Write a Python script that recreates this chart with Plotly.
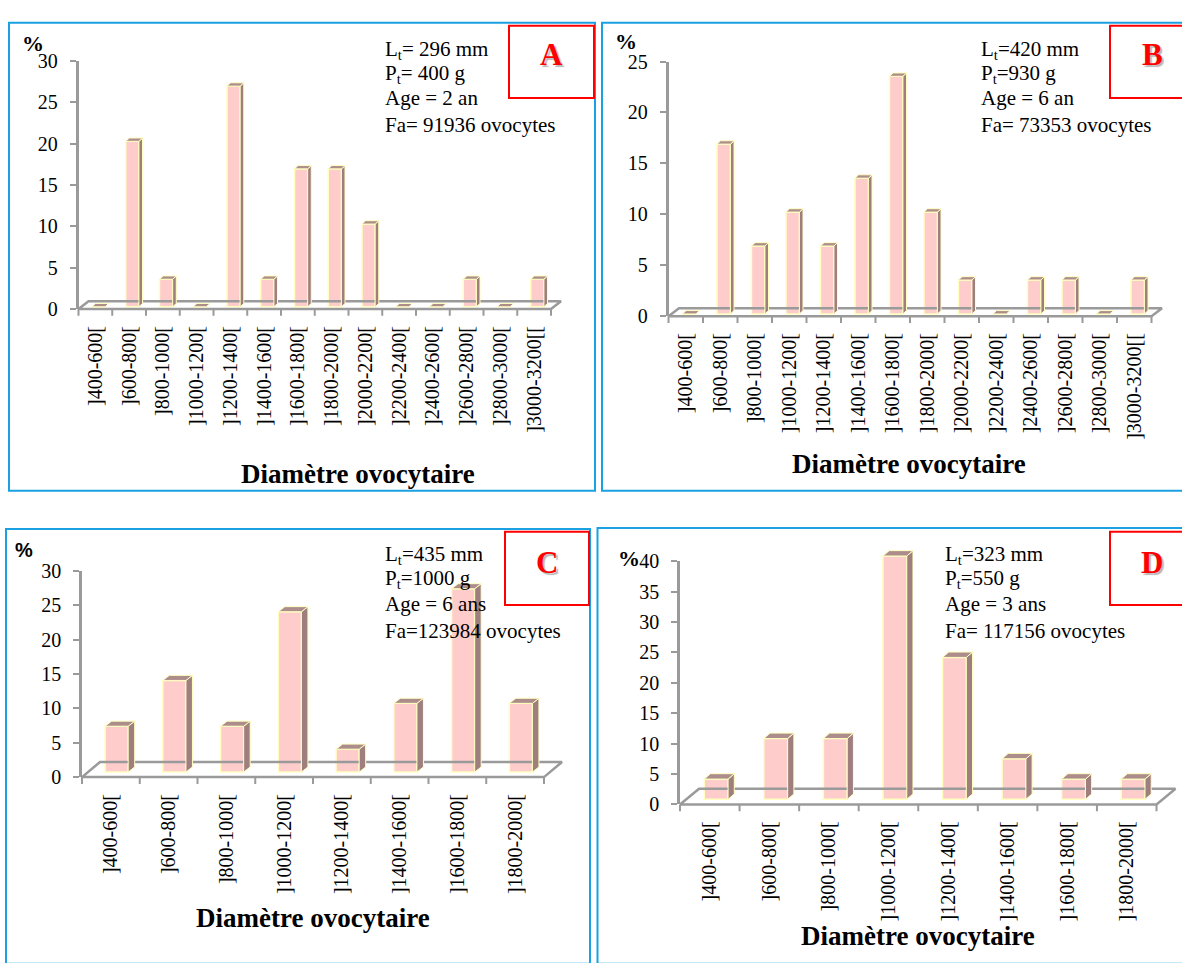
import plotly.graph_objects as go

W, H = 1182, 963

# ---- data -------------------------------------------------------------
classes_long = ["]400-600[", "]600-800[", "]800-1000[", "]1000-1200[", "]1200-1400[",
                "]1400-1600[", "]1600-1800[", "]1800-2000[", "]2000-2200[", "]2200-2400[",
                "]2400-2600[", "]2600-2800[", "]2800-3000[", "]3000-3200[["]
classes_short = ["]400-600[", "]600-800[", "]800-1000[", "]1000-1200[", "]1200-1400[",
                 "]1400-1600[", "]1600-1800[", "]1800-2000["]

pct_a = [0, 20, 3.33, 0, 26.67, 3.33, 16.67, 16.67, 10, 0, 0, 3.33, 0, 3.33]
pct_b = [0, 16.67, 6.67, 10, 6.67, 13.33, 23.33, 10, 3.33, 0, 3.33, 3.33, 0, 3.33]
pct_c = [6.67, 13.33, 6.67, 23.33, 3.33, 10, 26.67, 10]
pct_d = [3.33, 10, 10, 40, 23.33, 6.67, 3.33, 3.33]

yticks_a = [0, 5, 10, 15, 20, 25, 30]
yticks_b = [0, 5, 10, 15, 20, 25]
yticks_c = [0, 5, 10, 15, 20, 25, 30]
yticks_d = [0, 5, 10, 15, 20, 25, 30, 35, 40]

info_a = ["L<sub>t</sub>= 296 mm", "P<sub>t</sub>= 400 g", "Age = 2 an", "Fa= 91936 ovocytes"]
info_b = ["L<sub>t</sub>=420 mm", "P<sub>t</sub>=930 g", "Age = 6 an", "Fa= 73353 ovocytes"]
info_c = ["L<sub>t</sub>=435 mm", "P<sub>t</sub>=1000 g", "Age = 6 ans", "Fa=123984 ovocytes"]
info_d = ["L<sub>t</sub>=323 mm", "P<sub>t</sub>=550 g", "Age = 3 ans", "Fa= 117156 ovocytes"]

x_title = "Diamètre ovocytaire"

# ---- styling ------------------------------------------------------------
SERIF = "Liberation Serif"
SANS = "Liberation Sans"
GREY = "#9a9a9a"
FRONT = "#FFCCCC"
SIDE = "#9E7E7E"
TOP = "#AD8C8C"
EDGE = "#FFFFC0"
BLUE = "#1BA1E2"
RED = "#FF0000"

# pixel geometry of each panel (axis corner, axis extents, floor depth, bar depth)
panels = [
    dict(tag="A", cats=classes_long, vals=pct_a, yt=yticks_a, info=info_a,
         x0=78.5, x1=551, y0=305, ytop=51, fdx=10, fdy=8, bw=0.39, bdx=3.6, bdy=3.4,
         info_x=383, info_y=[40, 64, 89, 117], pct=(32.5, 33, SERIF, 22),
         letter=(551, 45), title=(358, 474),
         box=(9, 12, 595, 491), red=(509, 15, 594, 89)),
    dict(tag="B", cats=classes_long, vals=pct_b, yt=yticks_b, info=info_b,
         x0=668.5, x1=1151.5, y0=312.3, ytop=51.7, fdx=10.5, fdy=8, bw=0.39, bdx=3.6, bdy=3.4,
         info_x=979, info_y=[40, 64, 89, 117], pct=(626, 31, SERIF, 22),
         letter=(1152, 45), title=(909, 464),
         box=(602, 12, 1195, 491), red=(1110, 15, 1195, 89)),
    dict(tag="C", cats=classes_short, vals=pct_c, yt=yticks_c, info=info_c,
         x0=82, x1=544, y0=784, ytop=573, fdx=18, fdy=15.5, bw=0.40, bdx=6.5, bdy=5.2,
         info_x=383, info_y=[557, 581, 607, 634], pct=(24, 552, SANS, 20),
         letter=(547, 564), title=(313, 928),
         box=(6, 530, 590, 975), red=(505, 533, 589, 608)),
    dict(tag="D", cats=classes_short, vals=pct_d, yt=yticks_d, info=info_d,
         x0=680, x1=1156.5, y0=812, ytop=563, fdx=19, fdy=16, bw=0.40, bdx=6.2, bdy=5.5,
         info_x=943, info_y=[557, 581, 607, 634], pct=(628.5, 560, SERIF, 22),
         letter=(1151.5, 564), title=(918, 947),
         box=(597.5, 529, 1195, 975), red=(1110, 533, 1195, 608)),
]


def px(x):
    return x / W


def py(y):
    return 1 - y / H


fig = go.Figure()
layout = dict(width=W, height=H, margin=dict(l=0, r=0, t=0, b=0), autosize=False,
              paper_bgcolor="white", plot_bgcolor="rgba(0,0,0,0)", showlegend=False)
annotations = []
shapes = []

for i, p in enumerate(panels):
    n = len(p["cats"])
    ymax = p["yt"][-1]
    ppx = (p["x1"] - p["x0"]) / n
    ppy = (p["y0"] - p["ytop"]) / ymax

    fa, ga = i + 1, i + 5  # frame axes (ticks/labels) and geometry axes (3D marks)
    fxa, fya = ("xaxis" if fa == 1 else f"xaxis{fa}"), ("yaxis" if fa == 1 else f"yaxis{fa}")
    fxr, fyr = ("x" if fa == 1 else f"x{fa}"), ("y" if fa == 1 else f"y{fa}")
    gxa, gya = f"xaxis{ga}", f"yaxis{ga}"

    layout[fxa] = dict(domain=[px(p["x0"]), px(p["x1"])], range=[0, n], anchor=fyr,
                       tickmode="array", tickvals=[k + 0.5 for k in range(n)],
                       ticktext=p["cats"], tickangle=-90, ticks="", showline=False,
                       showgrid=False, zeroline=False, ticklabelstandoff=12,
                       tickfont=dict(family=SERIF, size=20, color="black"), fixedrange=True)
    layout[fya] = dict(domain=[py(p["y0"]), py(p["ytop"])], range=[0, ymax], anchor=fxr,
                       tickmode="array", tickvals=p["yt"], ticks="outside", ticklen=6,
                       tickwidth=2, tickcolor=GREY, showline=True, linecolor=GREY,
                       linewidth=2.5, showgrid=False, zeroline=False, ticklabelstandoff=8,
                       tickfont=dict(family=SERIF, size=20, color="black"), fixedrange=True)
    # an empty trace so the frame subplot is drawn
    fig.add_trace(go.Scatter(x=[None], y=[None], mode="markers", hoverinfo="skip",
                             xaxis=fxr, yaxis=fyr))

    padL, padB, padT = 6, 14, 30
    padR = min(30, W - p["x1"] - 1)
    layout[gxa] = dict(domain=[px(p["x0"] - padL), px(p["x1"] + padR)],
                       range=[-padL / ppx, n + padR / ppx], anchor=f"y{ga}", visible=False,
                       fixedrange=True)
    layout[gya] = dict(domain=[py(p["y0"] + padB), py(p["ytop"] - padT)],
                       range=[-padB / ppy, ymax + padT / ppy], anchor=f"x{ga}", visible=False,
                       fixedrange=True)
    xr, yr = f"x{ga}", f"y{ga}"

    # floor depth and bar depth in data units
    fdx, fdy = p["fdx"] / ppx, p["fdy"] / ppy
    bdx, bdy = p["bdx"] / ppx, p["bdy"] / ppy
    sx = (fdx - bdx) / 2
    base = (fdy - bdy) / 2

    # floor outline (front edge doubles as the category axis)
    fig.add_trace(go.Scatter(x=[0, n, n + fdx, fdx, 0], y=[0, 0, fdy, fdy, 0],
                             mode="lines", line=dict(color=GREY, width=2.5),
                             hoverinfo="skip", xaxis=xr, yaxis=yr))
    # category boundary ticks
    tx, ty = [], []
    for k in range(n + 1):
        tx += [k, k, None]
        ty += [0, -7 / ppy, None]
    fig.add_trace(go.Scatter(x=tx, y=ty, mode="lines", line=dict(color=GREY, width=2),
                             hoverinfo="skip", xaxis=xr, yaxis=yr))

    # front faces of the columns
    centers = [k + 0.5 + sx for k in range(n)]
    half = p["bw"] / 2
    fig.add_trace(go.Bar(x=centers, y=p["vals"], base=base, width=p["bw"],
                         marker=dict(color=FRONT, line=dict(color=EDGE, width=1.5)),
                         hovertemplate="%{y}<extra></extra>", xaxis=xr, yaxis=yr))

    # side and top faces
    side_x, side_y, top_x, top_y = [], [], [], []
    for c, v in zip(centers, p["vals"]):
        xl, xrr = c - half, c + half
        yt = base + v
        if v > 0:
            side_x += [xrr, xrr + bdx, xrr + bdx, xrr, xrr, None]
            side_y += [base, base + bdy, yt + bdy, yt, base, None]
        top_x += [xl, xl + bdx, xrr + bdx, xrr, xl, None]
        top_y += [yt, yt + bdy, yt + bdy, yt, yt, None]
    fig.add_trace(go.Scatter(x=side_x, y=side_y, mode="lines", fill="toself",
                             fillcolor=SIDE, line=dict(color=EDGE, width=1),
                             hoverinfo="skip", xaxis=xr, yaxis=yr))
    fig.add_trace(go.Scatter(x=top_x, y=top_y, mode="lines", fill="toself",
                             fillcolor=TOP, line=dict(color=EDGE, width=1),
                             hoverinfo="skip", xaxis=xr, yaxis=yr))

    # fish description
    for line, yy in zip(p["info"], p["info_y"]):
        annotations.append(dict(x=px(p["info_x"]), y=py(yy), xref="paper", yref="paper",
                                text=line, showarrow=False, xanchor="left", yanchor="middle",
                                font=dict(family=SERIF, size=21, color="black")))
    # unit label
    ux, uy, ufam, usz = p["pct"]
    annotations.append(dict(x=px(ux), y=py(uy), xref="paper", yref="paper", text="<b>%</b>",
                            showarrow=False, xanchor="center", yanchor="middle",
                            font=dict(family=ufam, size=usz, color="black")))
    # axis title
    annotations.append(dict(x=px(p["title"][0]), y=py(p["title"][1]), xref="paper",
                            yref="paper", text=f"<b>{x_title}</b>", showarrow=False,
                            xanchor="center", yanchor="middle",
                            font=dict(family=SERIF, size=27, color="black")))
    # panel letter
    annotations.append(dict(x=px(p["letter"][0]), y=py(p["letter"][1]), xref="paper",
                            yref="paper", text=f"<b>{p['tag']}</b>", showarrow=False,
                            xanchor="center", yanchor="middle",
                            font=dict(family=SERIF, size=31, color=RED,
                                      shadow="2px 2px 1px #b8b8b8")))

    bx0, by0, bx1, by1 = p["box"]
    shapes.append(dict(type="rect", xref="paper", yref="paper", x0=px(bx0), x1=px(bx1),
                       y0=py(by1), y1=py(by0), line=dict(color=BLUE, width=2), layer="below"))
    rx0, ry0, rx1, ry1 = p["red"]
    shapes.append(dict(type="rect", xref="paper", yref="paper", x0=px(rx0), x1=px(rx1),
                       y0=py(ry1), y1=py(ry0), line=dict(color=RED, width=2), layer="above"))

layout["annotations"] = annotations
layout["shapes"] = shapes
fig.update_layout(**layout)

fig.write_html("out.html")
